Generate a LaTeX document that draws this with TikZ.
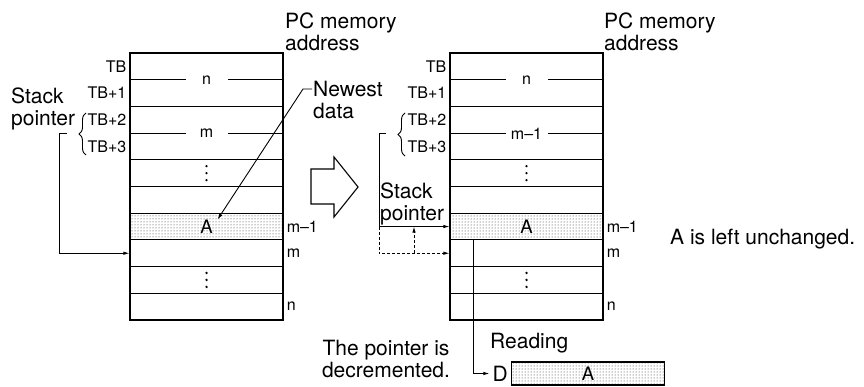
\documentclass[tikz,border=0pt]{standalone}
\usepackage{fontspec}
\setmainfont{TeX Gyre Heros}
\usetikzlibrary{arrows.meta,calc,patterns,decorations.pathreplacing}
\tikzset{
  cell/.style={
    draw=black,
    line width=1.1pt,
    minimum width=153pt,
    minimum height=26.7pt,
    inner sep=0pt,
    font=\fontsize{16}{18}\selectfont
  },
  shaded/.style={
    cell,
    pattern=dots,
    pattern color=black!85,
    font=\fontsize{18.5}{20}\selectfont
  },
  addr/.style={
    font=\fontsize{16}{18}\selectfont,
    inner sep=3pt
  },
  big/.style={
    font=\fontsize{21}{22.5}\selectfont,
    align=left,
    inner sep=0pt
  },
  split/.style={
    fill=white,
    minimum width=42pt,
    inner sep=0pt,
    font=\fontsize{16}{18}\selectfont
  },
  ptr/.style={
    -{Latex[length=6pt,width=3.5pt]},
    line width=0.9pt
  },
  dptr/.style={
    ptr,
    dash pattern=on 3pt off 2pt
  },
  brc/.style={
    decorate,
    decoration={brace,amplitude=7pt},
    line width=0.9pt
  }
}

\begin{document}
\begin{tikzpicture}[x=1pt,y=-1pt]
  \useasboundingbox (0,0) rectangle (864,387);

  % Memory before reading
  \foreach \i in {0,...,5,7,8,9}
    \node[cell] (L\i) at (206.5,66.35+26.7*\i) {};
  \node[shaded] (L6) at (206.5,226.55) {A};

  % Memory after reading
  \foreach \i in {0,...,5,7,8,9}
    \node[cell] (R\i) at (526.5,66.35+26.7*\i) {};
  \node[shaded] (R6) at (526.5,226.55) {A};

  % Split words
  \node[split] (Ln) at (L0.south) {n};
  \node[split] (Lm) at (L2.south) {m};
  \node[split] (Rn) at (R0.south) {n};
  \node[split] (Rm) at (R2.south) {m--1};

  % Vertical dots
  \foreach \s in {L4,L8,R4,R8}
    \foreach \d in {-7,0,7}
      \fill ($(\s.center)+(0,\d)$) circle (1.3pt);

  % Addresses
  \foreach \i/\t in {0/TB,1/TB+1,2/TB+2,3/TB+3} {
    \node[addr,anchor=east] (tbL\i) at (L\i.west) {\t};
    \node[addr,anchor=east] (tbR\i) at (R\i.west) {\t};
  }
  \node[addr,anchor=west] (mmL) at (L6.east) {m--1};
  \node[addr,anchor=west] (mL) at (L7.east) {m};
  \node[addr,anchor=west] (nL) at (L9.east) {n};
  \node[addr,anchor=west] (mmR) at (R6.east) {m--1};
  \node[addr,anchor=west] (mR) at (R7.east) {m};
  \node[addr,anchor=west] (nR) at (R9.east) {n};

  \node[big,anchor=west] (pcL) at (285,32) {PC memory\\address};
  \node[big,anchor=west] (pcR) at (604,32) {PC memory\\address};

  % Braces
  \draw[brc] (86,155) -- (86,113);
  \draw[brc] (405,156) -- (405,113);

  % Stack pointer before
  \node[big,anchor=west] (spL) at (11,109) {Stack\\pointer};
  \coordinate (spLt) at (67,133);
  \draw[ptr] (spLt) -- ++(-8,0) |- (L7.west);

  % Newest data
  \node[big,anchor=west] (newest) at (313,100) {Newest\\data};
  \coordinate (ndt) at (312,89);
  \draw[ptr] (ndt) -- ++(-9,0) -- ($(L6.center)+(11,-7)$);

  % Block arrow
  \draw[line width=1.1pt,fill=white]
    (311,169) -- (334,169) -- (334,157) -- (358,187)
    -- (334,217) -- (334,204) -- (311,204) -- cycle;

  % Stack pointer after
  \node[big,anchor=west] (spR) at (380,204) {Stack\\pointer};
  \coordinate (spRt) at (386,133);
  \draw[ptr] (spRt) -- ++(-7,0) coordinate (spRc) |- (R6.west);
  \draw[dptr] (spRc |- R6.west) |- (R7.west);
  \coordinate (dec) at (414,0);
  \draw[dptr] (dec |- R7.west) -- (dec |- R6.west);

  \node[big,anchor=west] (unch) at (670,239) {A is left unchanged.};

  % Reading
  \node[shaded,minimum height=23pt] (buf) at (588,373.5) {A};
  \node[addr,anchor=east,font=\fontsize{21}{22.5}\selectfont] (D) at (buf.west) {D};
  \coordinate (rd) at (473,0);
  \draw[ptr] (rd |- R6.south) |- (D.west);
  \node[big,anchor=west] (reading) at (490,343) {Reading};
  \node[big,align=center] (decr) at (386,359) {The pointer is\\decremented.};
\end{tikzpicture}
\end{document}
